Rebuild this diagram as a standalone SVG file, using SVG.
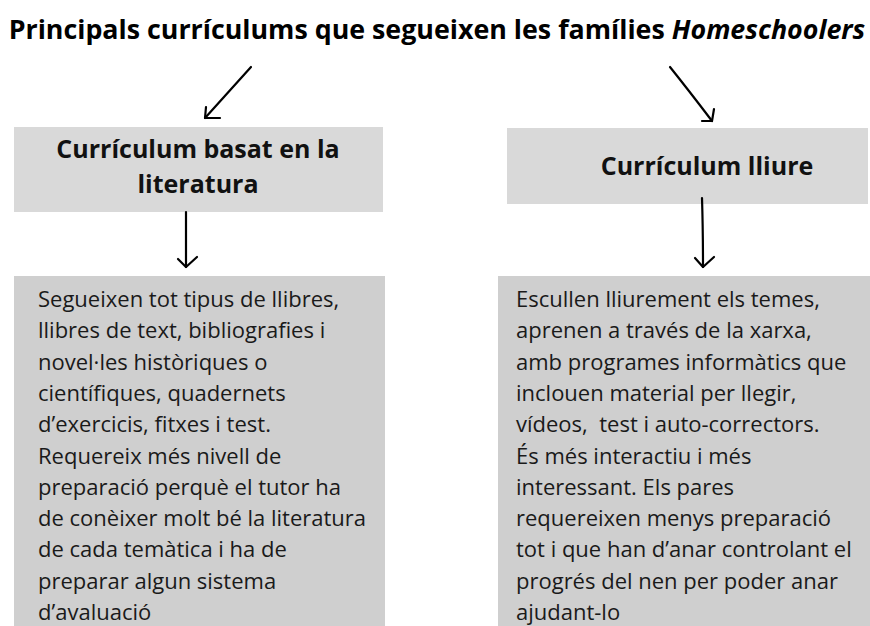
<svg xmlns="http://www.w3.org/2000/svg" width="870" height="626" viewBox="0 0 870 626">
<style>
.title{font-family:"Open Sans","Noto Sans",sans-serif;font-weight:700;font-size:26.8px;fill:#000}
.head{font-family:"Open Sans","Noto Sans",sans-serif;font-weight:700;font-size:25px;fill:#111;text-anchor:middle}
.body{font-family:"Open Sans","Noto Sans",sans-serif;font-size:22px;fill:#1a1a1a;white-space:pre}
.hbox{fill:#d9d9d9}
.bbox{fill:#cfcfcf}
.arr{fill:none;stroke:#000;stroke-width:2.2;stroke-linecap:round;stroke-linejoin:round}
</style>
<rect width="870" height="626" fill="#fff"/>
<g id="title">
<text class="title" x="437" y="39" text-anchor="middle">Principals currículums que segueixen les famílies <tspan font-style="italic">Homeschoolers</tspan></text>
</g>
<g id="node-literatura">
<rect class="hbox" x="14" y="127" width="369" height="85"/>
<text class="head" x="198" y="158">Currículum basat en la</text>
<text class="head" x="198" y="193">literatura</text>
</g>
<g id="node-lliure">
<rect class="hbox" x="507" y="128" width="361" height="76"/>
<text class="head" x="707" y="175">Currículum lliure</text>
</g>
<g id="node-literatura-desc">
<rect class="bbox" x="14" y="276" width="371" height="350"/>
<text class="body" x="38" y="307">
<tspan x="38" dy="0">Segueixen tot tipus de llibres,</tspan>
<tspan x="38" dy="31.3">llibres de text, bibliografies i</tspan>
<tspan x="38" dy="31.3">novel·les històriques o</tspan>
<tspan x="38" dy="31.3">científiques, quadernets</tspan>
<tspan x="38" dy="31.3">d’exercicis, fitxes i test.</tspan>
<tspan x="38" dy="31.3">Requereix més nivell de</tspan>
<tspan x="38" dy="31.3">preparació perquè el tutor ha</tspan>
<tspan x="38" dy="31.3">de conèixer molt bé la literatura</tspan>
<tspan x="38" dy="31.3">de cada temàtica i ha de</tspan>
<tspan x="38" dy="31.3">preparar algun sistema</tspan>
<tspan x="38" dy="31.3">d’avaluació</tspan>
</text>
</g>
<g id="node-lliure-desc">
<rect class="bbox" x="498" y="276" width="372" height="350"/>
<text class="body" x="516" y="307">
<tspan x="516" dy="0">Escullen lliurement els temes,</tspan>
<tspan x="516" dy="31.3">aprenen a través de la xarxa,</tspan>
<tspan x="516" dy="31.3">amb programes informàtics que</tspan>
<tspan x="516" dy="31.3">inclouen material per llegir,</tspan>
<tspan x="516" dy="31.3">vídeos,  test i auto-correctors.</tspan>
<tspan x="516" dy="31.3">És més interactiu i més</tspan>
<tspan x="516" dy="31.3">interessant. Els pares</tspan>
<tspan x="516" dy="31.3">requereixen menys preparació</tspan>
<tspan x="516" dy="31.3">tot i que han d’anar controlant el</tspan>
<tspan x="516" dy="31.3">progrés del nen per poder anar</tspan>
<tspan x="516" dy="31.3">ajudant-lo</tspan>
</text>
</g>
<g id="connectors">
<path class="arr" d="M251 67 Q232 88 205 118"/>
<path class="arr" d="M206 107 L205 118 L220 118"/>
<path class="arr" d="M670 67 Q690 92 712 121"/>
<path class="arr" d="M702 121 L712 121 L714 109"/>
<path class="arr" d="M186 212 L186 267"/>
<path class="arr" d="M178 259 L186 267 L197 257"/>
<path class="arr" d="M702 198 Q703 230 703 267"/>
<path class="arr" d="M695 258 L703 267 L714 257"/>
</g>
</svg>
